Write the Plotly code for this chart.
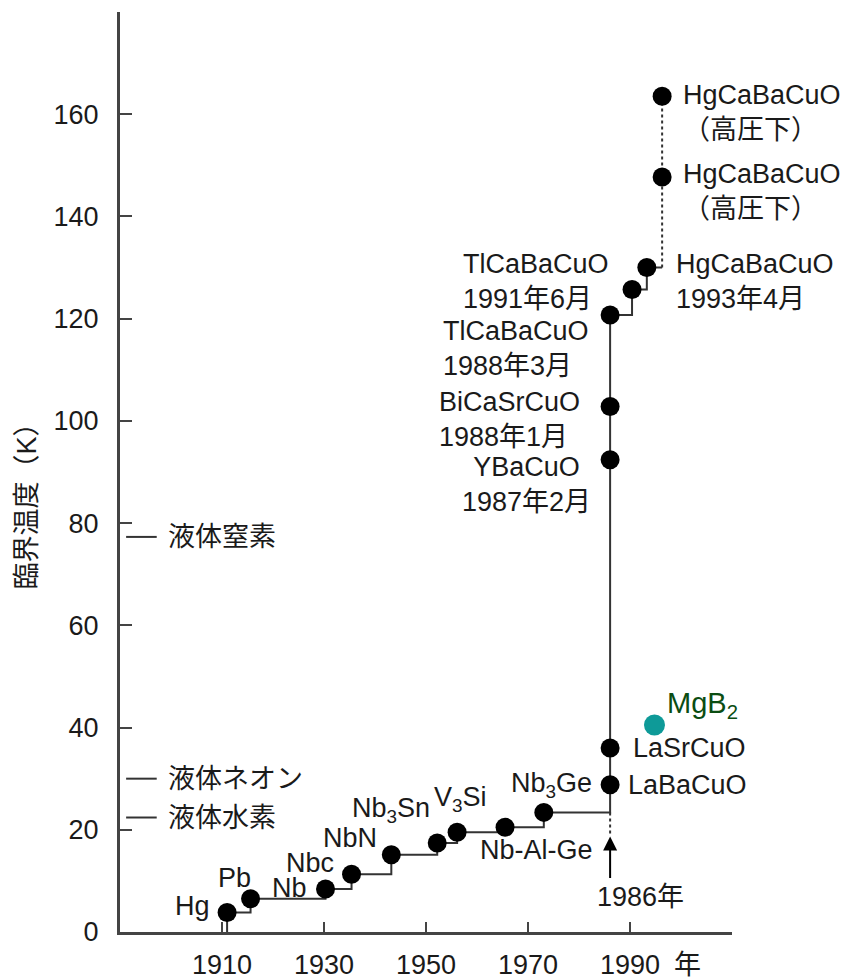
import plotly.graph_objects as go

# ---------------- data ----------------
names = ["Hg", "Pb", "Nb", "Nbc", "NbN", "Nb<sub>3</sub>Sn", "V<sub>3</sub>Si",
         "Nb-Al-Ge", "Nb<sub>3</sub>Ge", "LaBaCuO", "LaSrCuO",
         "YBaCuO<br>1987年2月", "BiCaSrCuO<br>1988年1月",
         "TlCaBaCuO<br>1988年3月", "TlCaBaCuO<br>1991年6月",
         "HgCaBaCuO<br>1993年4月"]
years = [1911.0, 1915.6, 1930.3, 1935.4, 1943.2, 1952.2, 1956.1, 1965.5,
         1973.1, 1986.1, 1986.1, 1986.1, 1986.1, 1986.1, 1990.4, 1993.3]
tc = [3.8, 6.5, 8.4, 11.3, 15.1, 17.4, 19.5, 20.5,
      23.4, 28.8, 36.0, 92.4, 102.8, 120.7, 125.7, 130.0]

hp_names = ["HgCaBaCuO<br>（高圧下）", "HgCaBaCuO<br>（高圧下）"]
hp_year = 1996.3
hp_tc = [147.7, 163.5]

mgb2_name = "MgB<sub>2</sub>"
mgb2_year = 1994.8
mgb2_tc = 40.5

liquid_names = ["液体窒素", "液体ネオン", "液体水素"]
liquid_tc = [77.3, 30.0, 22.4]

x_ticks = [1910, 1930, 1950, 1970, 1990]
y_ticks = [0, 20, 40, 60, 80, 100, 120, 140, 160]
breakthrough_year = "1986年"

# ---------------- label placement (style only) ----------------
# (xanchor, xshift px, yshift px, align)
label_pos = [
    ("right", -15, 7, "right"),
    ("center", -16, 21, "center"),
    ("right", -17, 1, "right"),
    ("right", -16, 11, "right"),
    ("right", -12, 17, "right"),
    ("right", -5, 33, "right"),
    ("center", 3, 33, "center"),
    ("center", 31, -23, "center"),
    ("center", 8, 27, "center"),
    ("left", 16, 0, "left"),
    ("left", 21, 0, "left"),
    ("center", -84, -25, "center"),
    ("right", -28, -13, "left"),
    ("right", -19, -33, "left"),
    ("right", -21, 8, "left"),
    ("left", 27, -14, "left"),
]
hp_pos = [(19, -14), (19, -16)]

FONT = "Liberation Sans, Arial, Noto Sans CJK JP, sans-serif"
FS = 27
LINE = "#333333"
AX = "#444444"
TXT = "#1a1a1a"

fig = go.Figure()

# step line
step_x = [years[0]] + years + [hp_year]
step_y = [0] + tc + [tc[-1]]
fig.add_trace(go.Scatter(x=step_x, y=step_y, mode="lines", line_shape="hv",
                         line=dict(color=LINE, width=2), hoverinfo="skip",
                         showlegend=False))
# high-pressure dotted line
fig.add_trace(go.Scatter(x=[hp_year] * 3, y=[tc[-1]] + hp_tc, mode="lines",
                         line=dict(color=LINE, width=2, dash="dot"),
                         hoverinfo="skip", showlegend=False))
# dotted line below 1986 towards the arrow
fig.add_trace(go.Scatter(x=[years[9], years[9]], y=[tc[8], tc[8] - 4.7], mode="lines",
                         line=dict(color=LINE, width=2, dash="dot"),
                         hoverinfo="skip", showlegend=False))
# markers
fig.add_trace(go.Scatter(x=years + [hp_year] * 2, y=tc + hp_tc, mode="markers",
                         marker=dict(color="black", size=19),
                         showlegend=False))
fig.add_trace(go.Scatter(x=[mgb2_year], y=[mgb2_tc], mode="markers",
                         marker=dict(color="#0e9a98", size=21),
                         showlegend=False))

ann = []
for n, x, y, (xa, xs, ys, al) in zip(names, years, tc, label_pos):
    ann.append(dict(x=x, y=y, text=n, showarrow=False, xanchor=xa, yanchor="middle",
                    xshift=xs, yshift=ys, align=al,
                    font=dict(family=FONT, size=FS, color=TXT)))
for n, y, (xs, ys) in zip(hp_names, hp_tc, hp_pos):
    ann.append(dict(x=hp_year, y=y, text=n, showarrow=False, xanchor="left",
                    yanchor="middle", xshift=xs, yshift=ys, align="left",
                    font=dict(family=FONT, size=FS, color=TXT)))
ann.append(dict(x=mgb2_year, y=mgb2_tc, text=mgb2_name, showarrow=False,
                xanchor="left", yanchor="middle", xshift=11, yshift=20,
                font=dict(family=FONT, size=29, color="#0b4d12")))
# arrow at 1986
ann.append(dict(x=years[9], y=tc[8] - 4.7, ax=0, ay=43, text="", showarrow=True,
                arrowhead=2, arrowsize=1.4, arrowwidth=2, arrowcolor="black"))
ann.append(dict(x=years[9], y=0, text=breakthrough_year, showarrow=False,
                xanchor="center", yanchor="middle", xshift=30, yshift=35,
                font=dict(family=FONT, size=FS, color=TXT)))
# liquid coolant labels
for n, t in zip(liquid_names, liquid_tc):
    ann.append(dict(x=0.075, xref="paper", y=t, text=n, showarrow=False,
                    xanchor="left", yanchor="middle",
                    font=dict(family=FONT, size=FS, color=TXT)))
# axis titles
ann.append(dict(x=-0.152, xref="paper", y=0.47, yref="paper", text="臨界温度（K）",
                textangle=-90, showarrow=False, xanchor="center", yanchor="middle",
                font=dict(family=FONT, size=FS, color=TXT)))
ann.append(dict(x=0.928, xref="paper", y=-0.0355, yref="paper", text="年",
                showarrow=False, xanchor="center", yanchor="middle",
                font=dict(family=FONT, size=FS, color=TXT)))

shapes = []
for t in liquid_tc:
    shapes.append(dict(type="line", xref="paper", x0=0.01, x1=0.06, yref="y",
                       y0=t, y1=t, line=dict(color=LINE, width=2)))

# page body has an 8px margin, so the figure is sized 8px smaller
fig.update_layout(
    width=843, height=972,
    margin=dict(l=112, r=119, t=4, b=48, autoexpand=False),
    plot_bgcolor="white", paper_bgcolor="white",
    annotations=ann, shapes=shapes,
    xaxis=dict(range=[1890, 2010], tickvals=x_ticks, ticks="inside", ticklen=10,
               tickwidth=2, tickcolor=AX, showline=True, linewidth=3, linecolor=AX,
               showgrid=False, zeroline=False, ticklabelstandoff=7, automargin=False,
               tickfont=dict(family=FONT, size=FS, color=TXT)),
    yaxis=dict(range=[0, 180], tickvals=y_ticks, ticks="inside", ticklen=12,
               tickwidth=2, tickcolor=AX, showline=True, linewidth=3, linecolor=AX,
               showgrid=False, zeroline=False, ticklabelstandoff=13, automargin=False,
               tickfont=dict(family=FONT, size=FS, color=TXT)),
)

fig.write_html("out.html")
